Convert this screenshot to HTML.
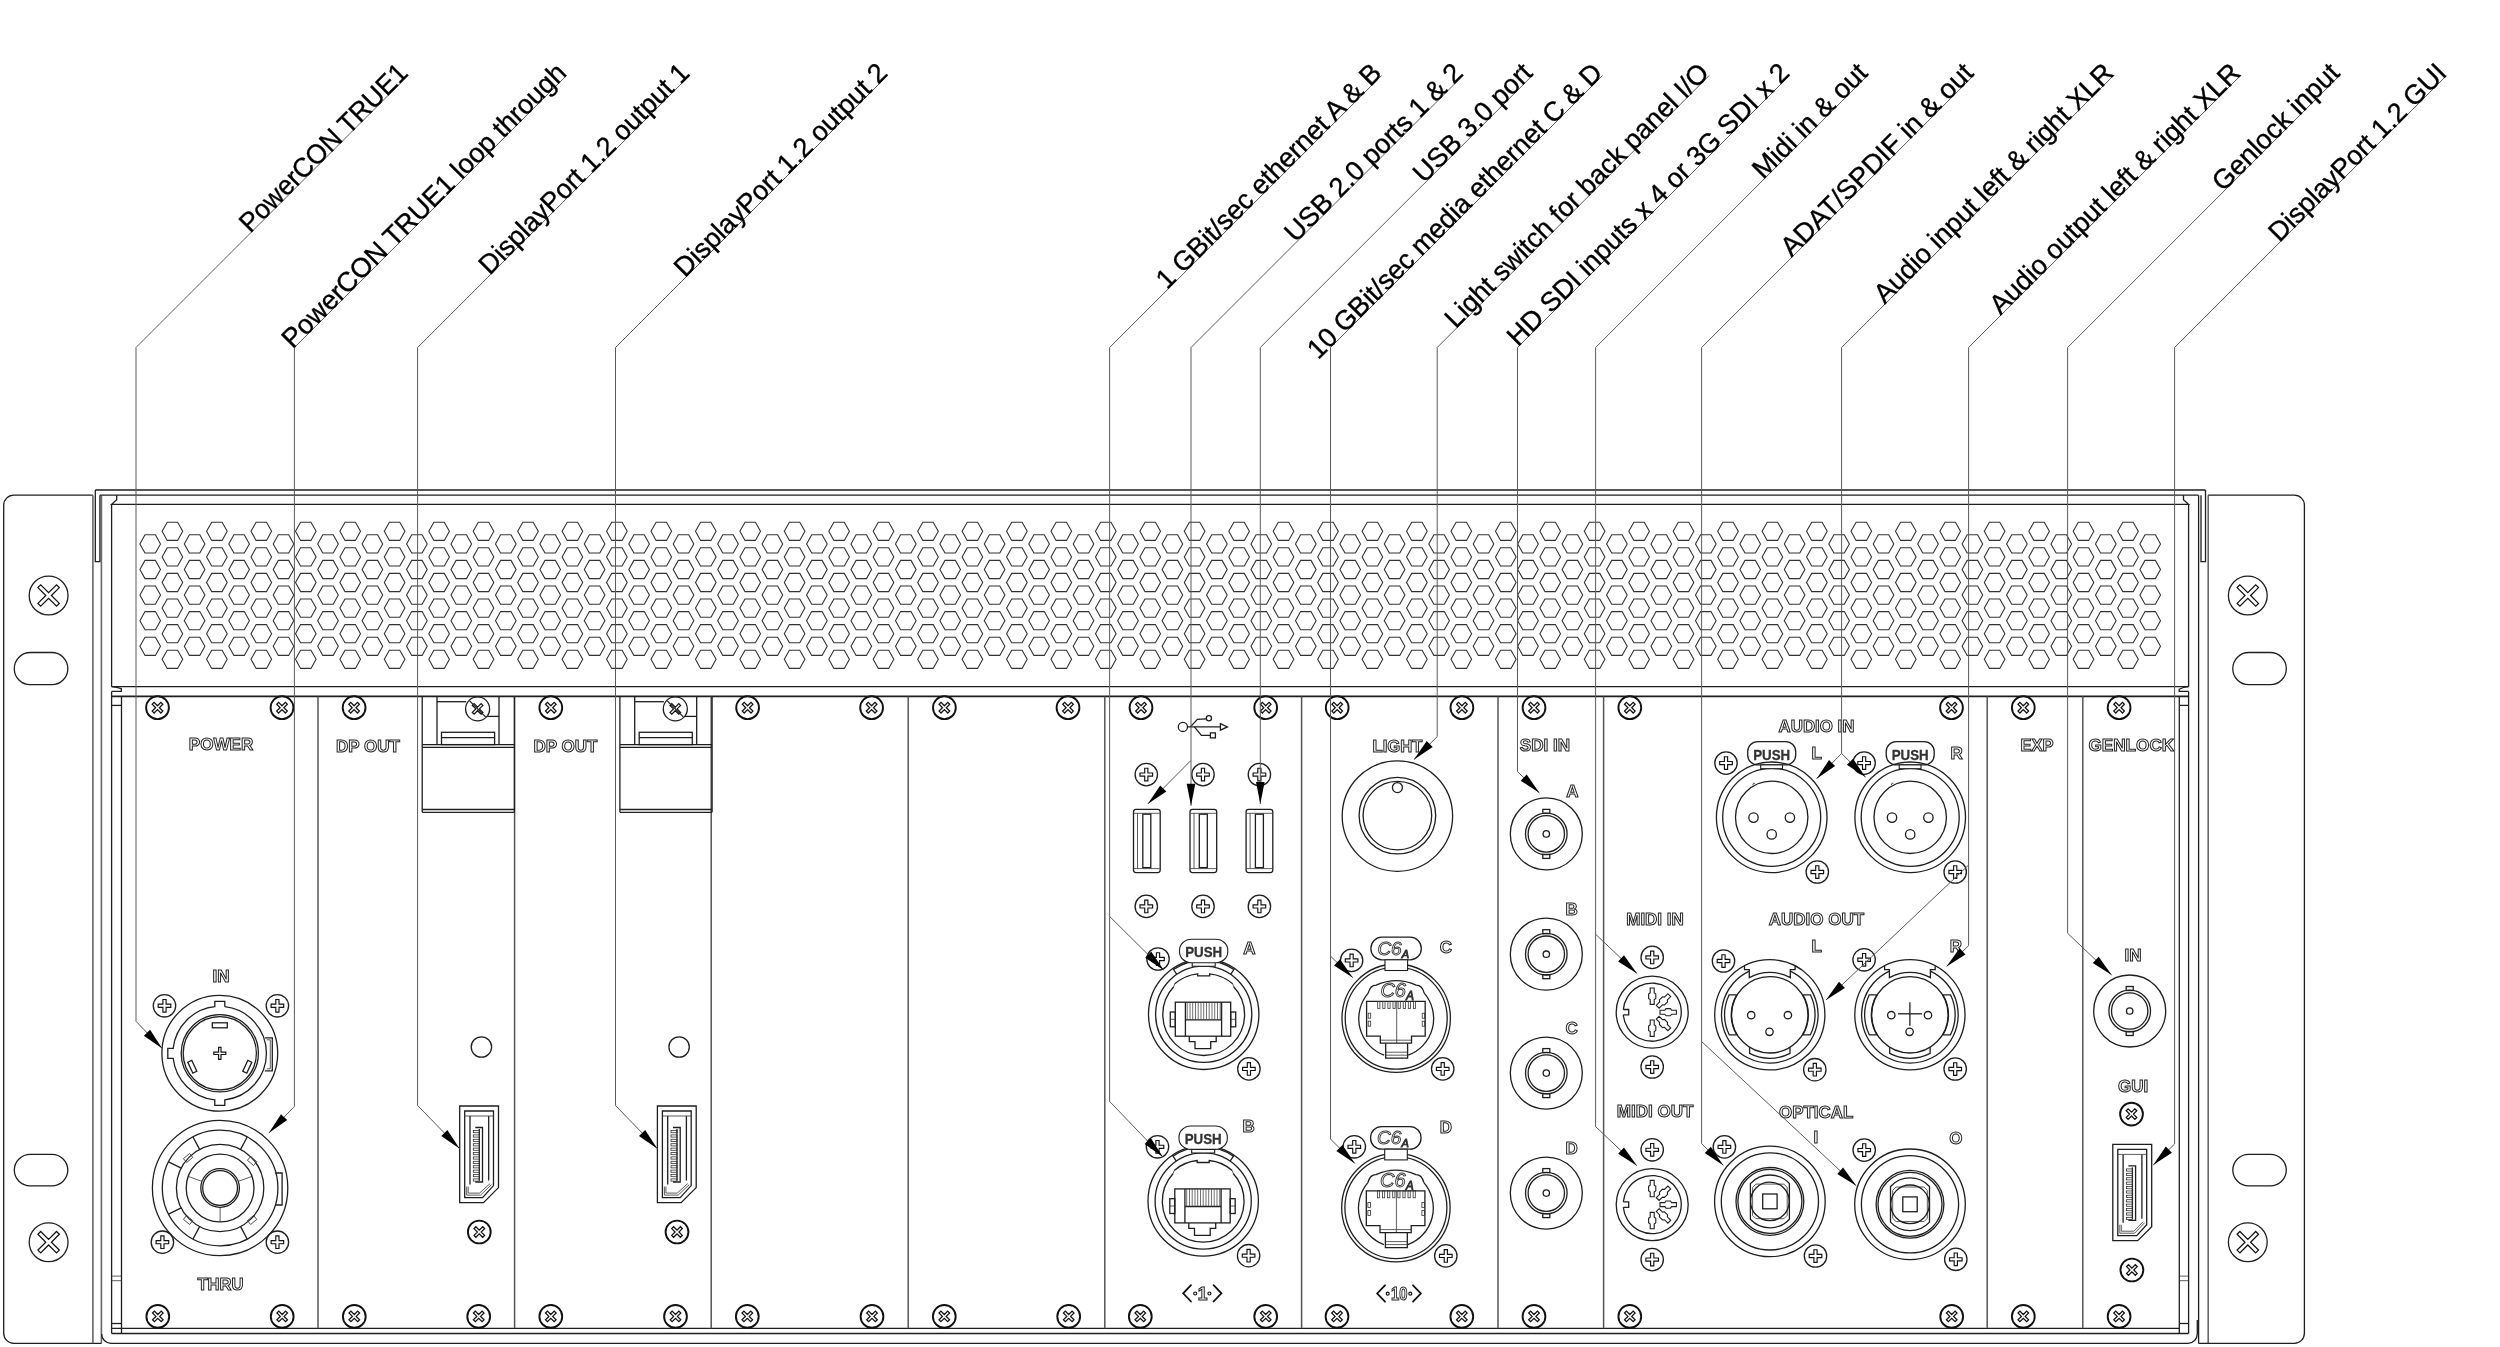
<!DOCTYPE html>
<html><head><meta charset="utf-8"><title>Rear panel</title><style>
html,body{margin:0;padding:0;background:#fff;}
body{width:2500px;height:1347px;overflow:hidden;}
svg{display:block;filter:grayscale(1);}
.m{fill:none;stroke:#1e1e1e;stroke-width:1.3;}
.m2{fill:none;stroke:#1e1e1e;stroke-width:1.7;}
.mw{fill:#fff;stroke:#1e1e1e;stroke-width:1.1;}
.g2{fill:none;stroke:#666;stroke-width:1.6;}
.dv{fill:none;stroke:#505050;stroke-width:1.45;}
.t{fill:none;stroke:#333;stroke-width:0.8;}
.hatch{fill:none;stroke:#333;stroke-width:0.7;}
.hx{fill:none;stroke:#333;stroke-width:1.1;}
.sc{fill:#fff;stroke:#111;stroke-width:1.9;}
.xs{fill:#fff;stroke:#111;stroke-width:1.25;}
.ps{fill:#fff;stroke:#111;stroke-width:1.15;}
.ld{fill:none;stroke:#5a5a5a;stroke-width:1;}
.ar{fill:#000;stroke:none;}
.chev{fill:none;stroke:#111;stroke-width:1.8;stroke-linecap:round;stroke-linejoin:miter;}
.dot{fill:#fff;stroke:#111;stroke-width:1.2;}
.lab{font-family:"Liberation Sans",sans-serif;font-size:27.3px;fill:#000;stroke:#000;stroke-width:0.35px;}
.ol{font-family:"Liberation Sans",sans-serif;font-weight:bold;fill:#fff;stroke:#222;stroke-width:1;}
.pu{font-family:"Liberation Sans",sans-serif;font-weight:bold;font-size:15px;fill:#333;stroke:#333;stroke-width:0.3;}
.c6{font-family:"Liberation Sans",sans-serif;font-style:italic;font-size:19px;fill:#fff;stroke:#333;stroke-width:0.9;}
.c6i{font-family:"Liberation Sans",sans-serif;font-style:italic;font-size:20px;fill:#fff;stroke:#333;stroke-width:0.9;}
</style></head><body>
<svg width="2500" height="1347" viewBox="0 0 2500 1347">
<defs><polygon id="hx" class="hx" points="-10.3,0 -5.2,-9.1 5.2,-9.1 10.3,0 5.2,9.1 -5.2,9.1"/><g id="sx"><circle class="sc" r="11.4"/><polygon class="xs" points="5.3,-3.4 1.9,-0 5.3,3.4 3.4,5.3 0,1.9 -3.4,5.3 -5.3,3.4 -1.9,0 -5.3,-3.4 -3.4,-5.3 -0,-1.9 3.4,-5.3"/></g><g id="sxt"><circle class="m" r="12"/><polygon class="xs" points="5.3,-3.5 1.8,-0 5.3,3.5 3.5,5.3 0,1.8 -3.5,5.3 -5.3,3.5 -1.8,0 -5.3,-3.5 -3.5,-5.3 -0,-1.8 3.5,-5.3"/><line class="m" x1="-8" y1="-8" x2="8" y2="8"/></g><g id="se"><circle class="m" r="19.4"/><polygon class="xs" points="10.7,-7.9 2.8,-0 10.7,7.9 7.9,10.7 0,2.8 -7.9,10.7 -10.7,7.9 -2.8,0 -10.7,-7.9 -7.9,-10.7 -0,-2.8 7.9,-10.7"/></g><g id="sp"><circle class="m" r="11.2"/><polygon class="ps" points="1.6,-6.3 1.6,-1.6 6.3,-1.6 6.3,1.6 1.6,1.6 1.6,6.3 -1.6,6.3 -1.6,1.6 -6.3,1.6 -6.3,-1.6 -1.6,-1.6 -1.6,-6.3"/></g><g id="bnc"><circle class="m" r="36"/><circle class="m" r="20.8"/><circle class="m" r="18.2"/><circle class="m" r="3.2"/><rect class="m" x="-3.5" y="-24.5" width="7" height="4"/><rect class="m" x="-3.5" y="20.5" width="7" height="4"/></g></defs>
<rect x="0" y="0" width="2500" height="1347" fill="#fff"/>
<path class="m" d="M92.9,495.2 H13.7 A10,10 0 0 0 3.7,505.2 V1333.3 A10,10 0 0 0 13.7,1343.3 H101.6"/>
<line class="g2" x1="92.9" y1="495.2" x2="92.9" y2="1343.3"/>
<line class="g2" x1="101.4" y1="495.2" x2="101.4" y2="1343.3"/>
<path class="m" d="M101.6,1334 A9.3,9.3 0 0 0 110.9,1343.3 H2188"/>
<line class="m" x1="95.3" y1="490" x2="2205.5" y2="490"/>
<path class="m" d="M95.3,490 V561.7 H99.9 V495.2"/>
<line class="m" x1="99.9" y1="495.2" x2="2198.4" y2="495.2"/>
<path class="m" d="M2205.5,490 V561.7 H2201 V495.2"/>
<line class="m" x1="2198.6" y1="495.2" x2="2198.6" y2="1343.3"/>
<line class="g2" x1="2208.2" y1="495.2" x2="2208.2" y2="1343.3"/>
<path class="m" d="M2208.2,495.2 H2294.4 A10,10 0 0 1 2304.4,505.2 V1333.3 A10,10 0 0 1 2294.4,1343.3 H2198.5"/>
<path class="m" d="M2188,1343.3 A9.3,9.3 0 0 0 2197.3,1334 V1320"/>
<path class="m" d="M116.7,495.2 V499.7 L111.6,504.3 H2188.6 L2183.5,499.7 V495.2"/>
<line class="m" x1="111.6" y1="504.3" x2="111.6" y2="686.7"/>
<line class="m" x1="2188.6" y1="504.3" x2="2188.6" y2="686.7"/>
<line class="m" x1="111.6" y1="686.7" x2="2188.6" y2="686.7"/>
<path class="m" d="M111.6,686.6 Q117,687 121.3,688.7 V691.4 H111.6"/>
<path class="m" d="M2188.6,686.6 Q2183,687 2179.2,689.2 V691.4 H2188.6"/>
<line class="m2" x1="111.6" y1="696.4" x2="2188.6" y2="696.4"/>
<line class="m" x1="111.6" y1="691.4" x2="111.6" y2="1333.5"/>
<line class="m" x1="121.5" y1="696.4" x2="121.5" y2="1333.5"/>
<line class="m" x1="2179.3" y1="696.4" x2="2179.3" y2="1333.5"/>
<line class="m" x1="2188.6" y1="691.4" x2="2188.6" y2="1333.5"/>
<line class="m2" x1="111.6" y1="1333.5" x2="2188.6" y2="1333.5"/>
<line class="m" x1="111.6" y1="1328.3" x2="2179.3" y2="1328.3"/>
<line class="m" x1="111.6" y1="705.4" x2="121.5" y2="705.4"/>
<line class="m" x1="2179.3" y1="705.4" x2="2188.6" y2="705.4"/>
<line class="m" x1="111.6" y1="1323.5" x2="121.5" y2="1323.5"/>
<line class="m" x1="2179.3" y1="1323.5" x2="2188.6" y2="1323.5"/>
<line class="t" x1="111.6" y1="1276.1" x2="121.5" y2="1276.1"/>
<line class="t" x1="2179.3" y1="1276.1" x2="2188.6" y2="1276.1"/>
<line class="t" x1="111.6" y1="1280.7" x2="121.5" y2="1280.7"/>
<line class="t" x1="2179.3" y1="1280.7" x2="2188.6" y2="1280.7"/>
<line class="dv" x1="318" y1="696.4" x2="318" y2="1328.3"/>
<line class="dv" x1="514.6" y1="696.4" x2="514.6" y2="1328.3"/>
<line class="dv" x1="711.2" y1="696.4" x2="711.2" y2="1328.3"/>
<line class="dv" x1="908.2" y1="696.4" x2="908.2" y2="1328.3"/>
<line class="dv" x1="1104.8" y1="696.4" x2="1104.8" y2="1328.3"/>
<line class="dv" x1="1301.6" y1="696.4" x2="1301.6" y2="1328.3"/>
<line class="dv" x1="1498" y1="696.4" x2="1498" y2="1328.3"/>
<line class="dv" x1="1603.6" y1="696.4" x2="1603.6" y2="1328.3"/>
<line class="dv" x1="1987.2" y1="696.4" x2="1987.2" y2="1328.3"/>
<line class="dv" x1="2082.8" y1="696.4" x2="2082.8" y2="1328.3"/>
<use href="#se" x="48.6" y="595.5"/>
<use href="#se" x="48.6" y="1242.2"/>
<use href="#se" x="2247.8" y="595.5"/>
<use href="#se" x="2247.8" y="1242.2"/>
<rect class="m" x="14.3" y="652.5" width="53.5" height="32.2" rx="16"/>
<rect class="m" x="14.3" y="1154.3" width="53.5" height="31.6" rx="16"/>
<rect class="m" x="2232.8" y="652.5" width="53.5" height="32.2" rx="16"/>
<rect class="m" x="2232.8" y="1154.3" width="53.5" height="31.6" rx="16"/>
<use href="#hx" x="150.2" y="543.9"/>
<use href="#hx" x="150.2" y="569.5"/>
<use href="#hx" x="150.2" y="595.1"/>
<use href="#hx" x="150.2" y="620.7"/>
<use href="#hx" x="150.2" y="646.3"/>
<use href="#hx" x="172.4" y="531.3"/>
<use href="#hx" x="172.4" y="556.9"/>
<use href="#hx" x="172.4" y="582.5"/>
<use href="#hx" x="172.4" y="608.1"/>
<use href="#hx" x="172.4" y="633.7"/>
<use href="#hx" x="172.4" y="659.3"/>
<use href="#hx" x="194.6" y="543.9"/>
<use href="#hx" x="194.6" y="569.5"/>
<use href="#hx" x="194.6" y="595.1"/>
<use href="#hx" x="194.6" y="620.7"/>
<use href="#hx" x="194.6" y="646.3"/>
<use href="#hx" x="216.9" y="531.3"/>
<use href="#hx" x="216.9" y="556.9"/>
<use href="#hx" x="216.9" y="582.5"/>
<use href="#hx" x="216.9" y="608.1"/>
<use href="#hx" x="216.9" y="633.7"/>
<use href="#hx" x="216.9" y="659.3"/>
<use href="#hx" x="239.1" y="543.9"/>
<use href="#hx" x="239.1" y="569.5"/>
<use href="#hx" x="239.1" y="595.1"/>
<use href="#hx" x="239.1" y="620.7"/>
<use href="#hx" x="239.1" y="646.3"/>
<use href="#hx" x="261.3" y="531.3"/>
<use href="#hx" x="261.3" y="556.9"/>
<use href="#hx" x="261.3" y="582.5"/>
<use href="#hx" x="261.3" y="608.1"/>
<use href="#hx" x="261.3" y="633.7"/>
<use href="#hx" x="261.3" y="659.3"/>
<use href="#hx" x="283.5" y="543.9"/>
<use href="#hx" x="283.5" y="569.5"/>
<use href="#hx" x="283.5" y="595.1"/>
<use href="#hx" x="283.5" y="620.7"/>
<use href="#hx" x="283.5" y="646.3"/>
<use href="#hx" x="305.8" y="531.3"/>
<use href="#hx" x="305.8" y="556.9"/>
<use href="#hx" x="305.8" y="582.5"/>
<use href="#hx" x="305.8" y="608.1"/>
<use href="#hx" x="305.8" y="633.7"/>
<use href="#hx" x="305.8" y="659.3"/>
<use href="#hx" x="328" y="543.9"/>
<use href="#hx" x="328" y="569.5"/>
<use href="#hx" x="328" y="595.1"/>
<use href="#hx" x="328" y="620.7"/>
<use href="#hx" x="328" y="646.3"/>
<use href="#hx" x="350.2" y="531.3"/>
<use href="#hx" x="350.2" y="556.9"/>
<use href="#hx" x="350.2" y="582.5"/>
<use href="#hx" x="350.2" y="608.1"/>
<use href="#hx" x="350.2" y="633.7"/>
<use href="#hx" x="350.2" y="659.3"/>
<use href="#hx" x="372.4" y="543.9"/>
<use href="#hx" x="372.4" y="569.5"/>
<use href="#hx" x="372.4" y="595.1"/>
<use href="#hx" x="372.4" y="620.7"/>
<use href="#hx" x="372.4" y="646.3"/>
<use href="#hx" x="394.6" y="531.3"/>
<use href="#hx" x="394.6" y="556.9"/>
<use href="#hx" x="394.6" y="582.5"/>
<use href="#hx" x="394.6" y="608.1"/>
<use href="#hx" x="394.6" y="633.7"/>
<use href="#hx" x="394.6" y="659.3"/>
<use href="#hx" x="416.9" y="543.9"/>
<use href="#hx" x="416.9" y="569.5"/>
<use href="#hx" x="416.9" y="595.1"/>
<use href="#hx" x="416.9" y="620.7"/>
<use href="#hx" x="416.9" y="646.3"/>
<use href="#hx" x="439.1" y="531.3"/>
<use href="#hx" x="439.1" y="556.9"/>
<use href="#hx" x="439.1" y="582.5"/>
<use href="#hx" x="439.1" y="608.1"/>
<use href="#hx" x="439.1" y="633.7"/>
<use href="#hx" x="439.1" y="659.3"/>
<use href="#hx" x="461.3" y="543.9"/>
<use href="#hx" x="461.3" y="569.5"/>
<use href="#hx" x="461.3" y="595.1"/>
<use href="#hx" x="461.3" y="620.7"/>
<use href="#hx" x="461.3" y="646.3"/>
<use href="#hx" x="483.5" y="531.3"/>
<use href="#hx" x="483.5" y="556.9"/>
<use href="#hx" x="483.5" y="582.5"/>
<use href="#hx" x="483.5" y="608.1"/>
<use href="#hx" x="483.5" y="633.7"/>
<use href="#hx" x="483.5" y="659.3"/>
<use href="#hx" x="505.8" y="543.9"/>
<use href="#hx" x="505.8" y="569.5"/>
<use href="#hx" x="505.8" y="595.1"/>
<use href="#hx" x="505.8" y="620.7"/>
<use href="#hx" x="505.8" y="646.3"/>
<use href="#hx" x="528" y="531.3"/>
<use href="#hx" x="528" y="556.9"/>
<use href="#hx" x="528" y="582.5"/>
<use href="#hx" x="528" y="608.1"/>
<use href="#hx" x="528" y="633.7"/>
<use href="#hx" x="528" y="659.3"/>
<use href="#hx" x="550.2" y="543.9"/>
<use href="#hx" x="550.2" y="569.5"/>
<use href="#hx" x="550.2" y="595.1"/>
<use href="#hx" x="550.2" y="620.7"/>
<use href="#hx" x="550.2" y="646.3"/>
<use href="#hx" x="572.4" y="531.3"/>
<use href="#hx" x="572.4" y="556.9"/>
<use href="#hx" x="572.4" y="582.5"/>
<use href="#hx" x="572.4" y="608.1"/>
<use href="#hx" x="572.4" y="633.7"/>
<use href="#hx" x="572.4" y="659.3"/>
<use href="#hx" x="594.6" y="543.9"/>
<use href="#hx" x="594.6" y="569.5"/>
<use href="#hx" x="594.6" y="595.1"/>
<use href="#hx" x="594.6" y="620.7"/>
<use href="#hx" x="594.6" y="646.3"/>
<use href="#hx" x="616.9" y="531.3"/>
<use href="#hx" x="616.9" y="556.9"/>
<use href="#hx" x="616.9" y="582.5"/>
<use href="#hx" x="616.9" y="608.1"/>
<use href="#hx" x="616.9" y="633.7"/>
<use href="#hx" x="616.9" y="659.3"/>
<use href="#hx" x="639.1" y="543.9"/>
<use href="#hx" x="639.1" y="569.5"/>
<use href="#hx" x="639.1" y="595.1"/>
<use href="#hx" x="639.1" y="620.7"/>
<use href="#hx" x="639.1" y="646.3"/>
<use href="#hx" x="661.3" y="531.3"/>
<use href="#hx" x="661.3" y="556.9"/>
<use href="#hx" x="661.3" y="582.5"/>
<use href="#hx" x="661.3" y="608.1"/>
<use href="#hx" x="661.3" y="633.7"/>
<use href="#hx" x="661.3" y="659.3"/>
<use href="#hx" x="683.5" y="543.9"/>
<use href="#hx" x="683.5" y="569.5"/>
<use href="#hx" x="683.5" y="595.1"/>
<use href="#hx" x="683.5" y="620.7"/>
<use href="#hx" x="683.5" y="646.3"/>
<use href="#hx" x="705.8" y="531.3"/>
<use href="#hx" x="705.8" y="556.9"/>
<use href="#hx" x="705.8" y="582.5"/>
<use href="#hx" x="705.8" y="608.1"/>
<use href="#hx" x="705.8" y="633.7"/>
<use href="#hx" x="705.8" y="659.3"/>
<use href="#hx" x="728" y="543.9"/>
<use href="#hx" x="728" y="569.5"/>
<use href="#hx" x="728" y="595.1"/>
<use href="#hx" x="728" y="620.7"/>
<use href="#hx" x="728" y="646.3"/>
<use href="#hx" x="750.2" y="531.3"/>
<use href="#hx" x="750.2" y="556.9"/>
<use href="#hx" x="750.2" y="582.5"/>
<use href="#hx" x="750.2" y="608.1"/>
<use href="#hx" x="750.2" y="633.7"/>
<use href="#hx" x="750.2" y="659.3"/>
<use href="#hx" x="772.4" y="543.9"/>
<use href="#hx" x="772.4" y="569.5"/>
<use href="#hx" x="772.4" y="595.1"/>
<use href="#hx" x="772.4" y="620.7"/>
<use href="#hx" x="772.4" y="646.3"/>
<use href="#hx" x="794.6" y="531.3"/>
<use href="#hx" x="794.6" y="556.9"/>
<use href="#hx" x="794.6" y="582.5"/>
<use href="#hx" x="794.6" y="608.1"/>
<use href="#hx" x="794.6" y="633.7"/>
<use href="#hx" x="794.6" y="659.3"/>
<use href="#hx" x="816.9" y="543.9"/>
<use href="#hx" x="816.9" y="569.5"/>
<use href="#hx" x="816.9" y="595.1"/>
<use href="#hx" x="816.9" y="620.7"/>
<use href="#hx" x="816.9" y="646.3"/>
<use href="#hx" x="839.1" y="531.3"/>
<use href="#hx" x="839.1" y="556.9"/>
<use href="#hx" x="839.1" y="582.5"/>
<use href="#hx" x="839.1" y="608.1"/>
<use href="#hx" x="839.1" y="633.7"/>
<use href="#hx" x="839.1" y="659.3"/>
<use href="#hx" x="861.3" y="543.9"/>
<use href="#hx" x="861.3" y="569.5"/>
<use href="#hx" x="861.3" y="595.1"/>
<use href="#hx" x="861.3" y="620.7"/>
<use href="#hx" x="861.3" y="646.3"/>
<use href="#hx" x="883.5" y="531.3"/>
<use href="#hx" x="883.5" y="556.9"/>
<use href="#hx" x="883.5" y="582.5"/>
<use href="#hx" x="883.5" y="608.1"/>
<use href="#hx" x="883.5" y="633.7"/>
<use href="#hx" x="883.5" y="659.3"/>
<use href="#hx" x="905.8" y="543.9"/>
<use href="#hx" x="905.8" y="569.5"/>
<use href="#hx" x="905.8" y="595.1"/>
<use href="#hx" x="905.8" y="620.7"/>
<use href="#hx" x="905.8" y="646.3"/>
<use href="#hx" x="928" y="531.3"/>
<use href="#hx" x="928" y="556.9"/>
<use href="#hx" x="928" y="582.5"/>
<use href="#hx" x="928" y="608.1"/>
<use href="#hx" x="928" y="633.7"/>
<use href="#hx" x="928" y="659.3"/>
<use href="#hx" x="950.2" y="543.9"/>
<use href="#hx" x="950.2" y="569.5"/>
<use href="#hx" x="950.2" y="595.1"/>
<use href="#hx" x="950.2" y="620.7"/>
<use href="#hx" x="950.2" y="646.3"/>
<use href="#hx" x="972.4" y="531.3"/>
<use href="#hx" x="972.4" y="556.9"/>
<use href="#hx" x="972.4" y="582.5"/>
<use href="#hx" x="972.4" y="608.1"/>
<use href="#hx" x="972.4" y="633.7"/>
<use href="#hx" x="972.4" y="659.3"/>
<use href="#hx" x="994.6" y="543.9"/>
<use href="#hx" x="994.6" y="569.5"/>
<use href="#hx" x="994.6" y="595.1"/>
<use href="#hx" x="994.6" y="620.7"/>
<use href="#hx" x="994.6" y="646.3"/>
<use href="#hx" x="1016.9" y="531.3"/>
<use href="#hx" x="1016.9" y="556.9"/>
<use href="#hx" x="1016.9" y="582.5"/>
<use href="#hx" x="1016.9" y="608.1"/>
<use href="#hx" x="1016.9" y="633.7"/>
<use href="#hx" x="1016.9" y="659.3"/>
<use href="#hx" x="1039.1" y="543.9"/>
<use href="#hx" x="1039.1" y="569.5"/>
<use href="#hx" x="1039.1" y="595.1"/>
<use href="#hx" x="1039.1" y="620.7"/>
<use href="#hx" x="1039.1" y="646.3"/>
<use href="#hx" x="1061.3" y="531.3"/>
<use href="#hx" x="1061.3" y="556.9"/>
<use href="#hx" x="1061.3" y="582.5"/>
<use href="#hx" x="1061.3" y="608.1"/>
<use href="#hx" x="1061.3" y="633.7"/>
<use href="#hx" x="1061.3" y="659.3"/>
<use href="#hx" x="1083.5" y="543.9"/>
<use href="#hx" x="1083.5" y="569.5"/>
<use href="#hx" x="1083.5" y="595.1"/>
<use href="#hx" x="1083.5" y="620.7"/>
<use href="#hx" x="1083.5" y="646.3"/>
<use href="#hx" x="1105.8" y="531.3"/>
<use href="#hx" x="1105.8" y="556.9"/>
<use href="#hx" x="1105.8" y="582.5"/>
<use href="#hx" x="1105.8" y="608.1"/>
<use href="#hx" x="1105.8" y="633.7"/>
<use href="#hx" x="1105.8" y="659.3"/>
<use href="#hx" x="1128" y="543.9"/>
<use href="#hx" x="1128" y="569.5"/>
<use href="#hx" x="1128" y="595.1"/>
<use href="#hx" x="1128" y="620.7"/>
<use href="#hx" x="1128" y="646.3"/>
<use href="#hx" x="1150.2" y="531.3"/>
<use href="#hx" x="1150.2" y="556.9"/>
<use href="#hx" x="1150.2" y="582.5"/>
<use href="#hx" x="1150.2" y="608.1"/>
<use href="#hx" x="1150.2" y="633.7"/>
<use href="#hx" x="1150.2" y="659.3"/>
<use href="#hx" x="1172.4" y="543.9"/>
<use href="#hx" x="1172.4" y="569.5"/>
<use href="#hx" x="1172.4" y="595.1"/>
<use href="#hx" x="1172.4" y="620.7"/>
<use href="#hx" x="1172.4" y="646.3"/>
<use href="#hx" x="1194.6" y="531.3"/>
<use href="#hx" x="1194.6" y="556.9"/>
<use href="#hx" x="1194.6" y="582.5"/>
<use href="#hx" x="1194.6" y="608.1"/>
<use href="#hx" x="1194.6" y="633.7"/>
<use href="#hx" x="1194.6" y="659.3"/>
<use href="#hx" x="1216.9" y="543.9"/>
<use href="#hx" x="1216.9" y="569.5"/>
<use href="#hx" x="1216.9" y="595.1"/>
<use href="#hx" x="1216.9" y="620.7"/>
<use href="#hx" x="1216.9" y="646.3"/>
<use href="#hx" x="1239.1" y="531.3"/>
<use href="#hx" x="1239.1" y="556.9"/>
<use href="#hx" x="1239.1" y="582.5"/>
<use href="#hx" x="1239.1" y="608.1"/>
<use href="#hx" x="1239.1" y="633.7"/>
<use href="#hx" x="1239.1" y="659.3"/>
<use href="#hx" x="1261.3" y="543.9"/>
<use href="#hx" x="1261.3" y="569.5"/>
<use href="#hx" x="1261.3" y="595.1"/>
<use href="#hx" x="1261.3" y="620.7"/>
<use href="#hx" x="1261.3" y="646.3"/>
<use href="#hx" x="1283.5" y="531.3"/>
<use href="#hx" x="1283.5" y="556.9"/>
<use href="#hx" x="1283.5" y="582.5"/>
<use href="#hx" x="1283.5" y="608.1"/>
<use href="#hx" x="1283.5" y="633.7"/>
<use href="#hx" x="1283.5" y="659.3"/>
<use href="#hx" x="1305.8" y="543.9"/>
<use href="#hx" x="1305.8" y="569.5"/>
<use href="#hx" x="1305.8" y="595.1"/>
<use href="#hx" x="1305.8" y="620.7"/>
<use href="#hx" x="1305.8" y="646.3"/>
<use href="#hx" x="1328" y="531.3"/>
<use href="#hx" x="1328" y="556.9"/>
<use href="#hx" x="1328" y="582.5"/>
<use href="#hx" x="1328" y="608.1"/>
<use href="#hx" x="1328" y="633.7"/>
<use href="#hx" x="1328" y="659.3"/>
<use href="#hx" x="1350.2" y="543.9"/>
<use href="#hx" x="1350.2" y="569.5"/>
<use href="#hx" x="1350.2" y="595.1"/>
<use href="#hx" x="1350.2" y="620.7"/>
<use href="#hx" x="1350.2" y="646.3"/>
<use href="#hx" x="1372.4" y="531.3"/>
<use href="#hx" x="1372.4" y="556.9"/>
<use href="#hx" x="1372.4" y="582.5"/>
<use href="#hx" x="1372.4" y="608.1"/>
<use href="#hx" x="1372.4" y="633.7"/>
<use href="#hx" x="1372.4" y="659.3"/>
<use href="#hx" x="1394.6" y="543.9"/>
<use href="#hx" x="1394.6" y="569.5"/>
<use href="#hx" x="1394.6" y="595.1"/>
<use href="#hx" x="1394.6" y="620.7"/>
<use href="#hx" x="1394.6" y="646.3"/>
<use href="#hx" x="1416.9" y="531.3"/>
<use href="#hx" x="1416.9" y="556.9"/>
<use href="#hx" x="1416.9" y="582.5"/>
<use href="#hx" x="1416.9" y="608.1"/>
<use href="#hx" x="1416.9" y="633.7"/>
<use href="#hx" x="1416.9" y="659.3"/>
<use href="#hx" x="1439.1" y="543.9"/>
<use href="#hx" x="1439.1" y="569.5"/>
<use href="#hx" x="1439.1" y="595.1"/>
<use href="#hx" x="1439.1" y="620.7"/>
<use href="#hx" x="1439.1" y="646.3"/>
<use href="#hx" x="1461.3" y="531.3"/>
<use href="#hx" x="1461.3" y="556.9"/>
<use href="#hx" x="1461.3" y="582.5"/>
<use href="#hx" x="1461.3" y="608.1"/>
<use href="#hx" x="1461.3" y="633.7"/>
<use href="#hx" x="1461.3" y="659.3"/>
<use href="#hx" x="1483.5" y="543.9"/>
<use href="#hx" x="1483.5" y="569.5"/>
<use href="#hx" x="1483.5" y="595.1"/>
<use href="#hx" x="1483.5" y="620.7"/>
<use href="#hx" x="1483.5" y="646.3"/>
<use href="#hx" x="1505.8" y="531.3"/>
<use href="#hx" x="1505.8" y="556.9"/>
<use href="#hx" x="1505.8" y="582.5"/>
<use href="#hx" x="1505.8" y="608.1"/>
<use href="#hx" x="1505.8" y="633.7"/>
<use href="#hx" x="1505.8" y="659.3"/>
<use href="#hx" x="1528" y="543.9"/>
<use href="#hx" x="1528" y="569.5"/>
<use href="#hx" x="1528" y="595.1"/>
<use href="#hx" x="1528" y="620.7"/>
<use href="#hx" x="1528" y="646.3"/>
<use href="#hx" x="1550.2" y="531.3"/>
<use href="#hx" x="1550.2" y="556.9"/>
<use href="#hx" x="1550.2" y="582.5"/>
<use href="#hx" x="1550.2" y="608.1"/>
<use href="#hx" x="1550.2" y="633.7"/>
<use href="#hx" x="1550.2" y="659.3"/>
<use href="#hx" x="1572.4" y="543.9"/>
<use href="#hx" x="1572.4" y="569.5"/>
<use href="#hx" x="1572.4" y="595.1"/>
<use href="#hx" x="1572.4" y="620.7"/>
<use href="#hx" x="1572.4" y="646.3"/>
<use href="#hx" x="1594.6" y="531.3"/>
<use href="#hx" x="1594.6" y="556.9"/>
<use href="#hx" x="1594.6" y="582.5"/>
<use href="#hx" x="1594.6" y="608.1"/>
<use href="#hx" x="1594.6" y="633.7"/>
<use href="#hx" x="1594.6" y="659.3"/>
<use href="#hx" x="1616.9" y="543.9"/>
<use href="#hx" x="1616.9" y="569.5"/>
<use href="#hx" x="1616.9" y="595.1"/>
<use href="#hx" x="1616.9" y="620.7"/>
<use href="#hx" x="1616.9" y="646.3"/>
<use href="#hx" x="1639.1" y="531.3"/>
<use href="#hx" x="1639.1" y="556.9"/>
<use href="#hx" x="1639.1" y="582.5"/>
<use href="#hx" x="1639.1" y="608.1"/>
<use href="#hx" x="1639.1" y="633.7"/>
<use href="#hx" x="1639.1" y="659.3"/>
<use href="#hx" x="1661.3" y="543.9"/>
<use href="#hx" x="1661.3" y="569.5"/>
<use href="#hx" x="1661.3" y="595.1"/>
<use href="#hx" x="1661.3" y="620.7"/>
<use href="#hx" x="1661.3" y="646.3"/>
<use href="#hx" x="1683.5" y="531.3"/>
<use href="#hx" x="1683.5" y="556.9"/>
<use href="#hx" x="1683.5" y="582.5"/>
<use href="#hx" x="1683.5" y="608.1"/>
<use href="#hx" x="1683.5" y="633.7"/>
<use href="#hx" x="1683.5" y="659.3"/>
<use href="#hx" x="1705.8" y="543.9"/>
<use href="#hx" x="1705.8" y="569.5"/>
<use href="#hx" x="1705.8" y="595.1"/>
<use href="#hx" x="1705.8" y="620.7"/>
<use href="#hx" x="1705.8" y="646.3"/>
<use href="#hx" x="1728" y="531.3"/>
<use href="#hx" x="1728" y="556.9"/>
<use href="#hx" x="1728" y="582.5"/>
<use href="#hx" x="1728" y="608.1"/>
<use href="#hx" x="1728" y="633.7"/>
<use href="#hx" x="1728" y="659.3"/>
<use href="#hx" x="1750.2" y="543.9"/>
<use href="#hx" x="1750.2" y="569.5"/>
<use href="#hx" x="1750.2" y="595.1"/>
<use href="#hx" x="1750.2" y="620.7"/>
<use href="#hx" x="1750.2" y="646.3"/>
<use href="#hx" x="1772.4" y="531.3"/>
<use href="#hx" x="1772.4" y="556.9"/>
<use href="#hx" x="1772.4" y="582.5"/>
<use href="#hx" x="1772.4" y="608.1"/>
<use href="#hx" x="1772.4" y="633.7"/>
<use href="#hx" x="1772.4" y="659.3"/>
<use href="#hx" x="1794.6" y="543.9"/>
<use href="#hx" x="1794.6" y="569.5"/>
<use href="#hx" x="1794.6" y="595.1"/>
<use href="#hx" x="1794.6" y="620.7"/>
<use href="#hx" x="1794.6" y="646.3"/>
<use href="#hx" x="1816.9" y="531.3"/>
<use href="#hx" x="1816.9" y="556.9"/>
<use href="#hx" x="1816.9" y="582.5"/>
<use href="#hx" x="1816.9" y="608.1"/>
<use href="#hx" x="1816.9" y="633.7"/>
<use href="#hx" x="1816.9" y="659.3"/>
<use href="#hx" x="1839.1" y="543.9"/>
<use href="#hx" x="1839.1" y="569.5"/>
<use href="#hx" x="1839.1" y="595.1"/>
<use href="#hx" x="1839.1" y="620.7"/>
<use href="#hx" x="1839.1" y="646.3"/>
<use href="#hx" x="1861.3" y="531.3"/>
<use href="#hx" x="1861.3" y="556.9"/>
<use href="#hx" x="1861.3" y="582.5"/>
<use href="#hx" x="1861.3" y="608.1"/>
<use href="#hx" x="1861.3" y="633.7"/>
<use href="#hx" x="1861.3" y="659.3"/>
<use href="#hx" x="1883.5" y="543.9"/>
<use href="#hx" x="1883.5" y="569.5"/>
<use href="#hx" x="1883.5" y="595.1"/>
<use href="#hx" x="1883.5" y="620.7"/>
<use href="#hx" x="1883.5" y="646.3"/>
<use href="#hx" x="1905.8" y="531.3"/>
<use href="#hx" x="1905.8" y="556.9"/>
<use href="#hx" x="1905.8" y="582.5"/>
<use href="#hx" x="1905.8" y="608.1"/>
<use href="#hx" x="1905.8" y="633.7"/>
<use href="#hx" x="1905.8" y="659.3"/>
<use href="#hx" x="1928" y="543.9"/>
<use href="#hx" x="1928" y="569.5"/>
<use href="#hx" x="1928" y="595.1"/>
<use href="#hx" x="1928" y="620.7"/>
<use href="#hx" x="1928" y="646.3"/>
<use href="#hx" x="1950.2" y="531.3"/>
<use href="#hx" x="1950.2" y="556.9"/>
<use href="#hx" x="1950.2" y="582.5"/>
<use href="#hx" x="1950.2" y="608.1"/>
<use href="#hx" x="1950.2" y="633.7"/>
<use href="#hx" x="1950.2" y="659.3"/>
<use href="#hx" x="1972.4" y="543.9"/>
<use href="#hx" x="1972.4" y="569.5"/>
<use href="#hx" x="1972.4" y="595.1"/>
<use href="#hx" x="1972.4" y="620.7"/>
<use href="#hx" x="1972.4" y="646.3"/>
<use href="#hx" x="1994.6" y="531.3"/>
<use href="#hx" x="1994.6" y="556.9"/>
<use href="#hx" x="1994.6" y="582.5"/>
<use href="#hx" x="1994.6" y="608.1"/>
<use href="#hx" x="1994.6" y="633.7"/>
<use href="#hx" x="1994.6" y="659.3"/>
<use href="#hx" x="2016.9" y="543.9"/>
<use href="#hx" x="2016.9" y="569.5"/>
<use href="#hx" x="2016.9" y="595.1"/>
<use href="#hx" x="2016.9" y="620.7"/>
<use href="#hx" x="2016.9" y="646.3"/>
<use href="#hx" x="2039.1" y="531.3"/>
<use href="#hx" x="2039.1" y="556.9"/>
<use href="#hx" x="2039.1" y="582.5"/>
<use href="#hx" x="2039.1" y="608.1"/>
<use href="#hx" x="2039.1" y="633.7"/>
<use href="#hx" x="2039.1" y="659.3"/>
<use href="#hx" x="2061.3" y="543.9"/>
<use href="#hx" x="2061.3" y="569.5"/>
<use href="#hx" x="2061.3" y="595.1"/>
<use href="#hx" x="2061.3" y="620.7"/>
<use href="#hx" x="2061.3" y="646.3"/>
<use href="#hx" x="2083.5" y="531.3"/>
<use href="#hx" x="2083.5" y="556.9"/>
<use href="#hx" x="2083.5" y="582.5"/>
<use href="#hx" x="2083.5" y="608.1"/>
<use href="#hx" x="2083.5" y="633.7"/>
<use href="#hx" x="2083.5" y="659.3"/>
<use href="#hx" x="2105.8" y="543.9"/>
<use href="#hx" x="2105.8" y="569.5"/>
<use href="#hx" x="2105.8" y="595.1"/>
<use href="#hx" x="2105.8" y="620.7"/>
<use href="#hx" x="2105.8" y="646.3"/>
<use href="#hx" x="2128" y="531.3"/>
<use href="#hx" x="2128" y="556.9"/>
<use href="#hx" x="2128" y="582.5"/>
<use href="#hx" x="2128" y="608.1"/>
<use href="#hx" x="2128" y="633.7"/>
<use href="#hx" x="2128" y="659.3"/>
<use href="#hx" x="2150.2" y="543.9"/>
<use href="#hx" x="2150.2" y="569.5"/>
<use href="#hx" x="2150.2" y="595.1"/>
<use href="#hx" x="2150.2" y="620.7"/>
<use href="#hx" x="2150.2" y="646.3"/>
<use href="#sx" x="157.5" y="707.7"/>
<use href="#sx" x="282" y="707.7"/>
<use href="#sx" x="354.1" y="707.7"/>
<use href="#sx" x="550.8" y="707.7"/>
<use href="#sx" x="747.6" y="707.7"/>
<use href="#sx" x="871.6" y="707.7"/>
<use href="#sx" x="944.4" y="707.7"/>
<use href="#sx" x="1068" y="707.7"/>
<use href="#sx" x="1141" y="707.7"/>
<use href="#sx" x="1265.7" y="707.7"/>
<use href="#sx" x="1337.2" y="707.7"/>
<use href="#sx" x="1461.9" y="707.7"/>
<use href="#sx" x="1534" y="707.7"/>
<use href="#sx" x="1629.8" y="707.7"/>
<use href="#sx" x="1951.5" y="707.7"/>
<use href="#sx" x="2023.3" y="707.7"/>
<use href="#sx" x="2119.1" y="707.7"/>
<use href="#sx" x="157.8" y="1316.4"/>
<use href="#sx" x="282.2" y="1316.4"/>
<use href="#sx" x="354.3" y="1316.4"/>
<use href="#sx" x="478.7" y="1316.4"/>
<use href="#sx" x="550.8" y="1316.4"/>
<use href="#sx" x="675.5" y="1316.4"/>
<use href="#sx" x="747.3" y="1316.4"/>
<use href="#sx" x="872" y="1316.4"/>
<use href="#sx" x="944.3" y="1316.4"/>
<use href="#sx" x="1068.7" y="1316.4"/>
<use href="#sx" x="1140.3" y="1316.4"/>
<use href="#sx" x="1265.7" y="1316.4"/>
<use href="#sx" x="1337" y="1316.4"/>
<use href="#sx" x="1461.8" y="1316.4"/>
<use href="#sx" x="1534" y="1316.4"/>
<use href="#sx" x="1629.8" y="1316.4"/>
<use href="#sx" x="1951.7" y="1316.4"/>
<use href="#sx" x="2023.3" y="1316.4"/>
<use href="#sx" x="2119.1" y="1316.4"/>
<text class="ol" x="221" y="749.6" font-size="17" text-anchor="middle" textLength="64.5" lengthAdjust="spacingAndGlyphs">POWER</text>
<text class="ol" x="368" y="751.5" font-size="17" text-anchor="middle" textLength="64" lengthAdjust="spacingAndGlyphs">DP OUT</text>
<text class="ol" x="565.5" y="751.5" font-size="17" text-anchor="middle" textLength="64" lengthAdjust="spacingAndGlyphs">DP OUT</text>
<text class="ol" x="221" y="981.5" font-size="17" text-anchor="middle">IN</text>
<text class="ol" x="220.5" y="1290" font-size="17" text-anchor="middle" textLength="46" lengthAdjust="spacingAndGlyphs">THRU</text>
<text class="ol" x="1397.5" y="752" font-size="17" text-anchor="middle" textLength="50" lengthAdjust="spacingAndGlyphs">LIGHT</text>
<text class="ol" x="1545" y="750.6" font-size="17" text-anchor="middle" textLength="50.3" lengthAdjust="spacingAndGlyphs">SDI IN</text>
<text class="ol" x="1816.5" y="732.4" font-size="17" text-anchor="middle" textLength="76" lengthAdjust="spacingAndGlyphs">AUDIO IN</text>
<text class="ol" x="1816.4" y="925.3" font-size="17" text-anchor="middle" textLength="95.5" lengthAdjust="spacingAndGlyphs">AUDIO OUT</text>
<text class="ol" x="1655" y="925.1" font-size="17" text-anchor="middle" textLength="57.5" lengthAdjust="spacingAndGlyphs">MIDI IN</text>
<text class="ol" x="1655.2" y="1117" font-size="17" text-anchor="middle" textLength="76.7" lengthAdjust="spacingAndGlyphs">MIDI OUT</text>
<text class="ol" x="1816.2" y="1117.5" font-size="17" text-anchor="middle" textLength="74.2" lengthAdjust="spacingAndGlyphs">OPTICAL</text>
<text class="ol" x="2037" y="751.1" font-size="17" text-anchor="middle" textLength="33.1" lengthAdjust="spacingAndGlyphs">EXP</text>
<text class="ol" x="2131.3" y="751.1" font-size="17" text-anchor="middle" textLength="85.7" lengthAdjust="spacingAndGlyphs">GENLOCK</text>
<text class="ol" x="2133.1" y="960.6" font-size="17" text-anchor="middle">IN</text>
<text class="ol" x="2133.1" y="1092.1" font-size="17" text-anchor="middle">GUI</text>
<text class="ol" x="1249.4" y="953.5" font-size="17" text-anchor="middle">A</text>
<text class="ol" x="1248.6" y="1131.6" font-size="17" text-anchor="middle">B</text>
<text class="ol" x="1445.8" y="953" font-size="17" text-anchor="middle">C</text>
<text class="ol" x="1445.8" y="1132.7" font-size="17" text-anchor="middle">D</text>
<text class="ol" x="1572.3" y="796.5" font-size="17" text-anchor="middle">A</text>
<text class="ol" x="1571.6" y="914.8" font-size="17" text-anchor="middle">B</text>
<text class="ol" x="1571.6" y="1033.6" font-size="17" text-anchor="middle">C</text>
<text class="ol" x="1571.6" y="1153.8" font-size="17" text-anchor="middle">D</text>
<text class="ol" x="1816.6" y="759.4" font-size="17" text-anchor="middle">L</text>
<text class="ol" x="1956.6" y="759.4" font-size="17" text-anchor="middle">R</text>
<text class="ol" x="1816.6" y="951.6" font-size="17" text-anchor="middle">L</text>
<text class="ol" x="1955.8" y="951.6" font-size="17" text-anchor="middle">R</text>
<text class="ol" x="1815.9" y="1143.2" font-size="17" text-anchor="middle">I</text>
<text class="ol" x="1955.8" y="1143.5" font-size="17" text-anchor="middle">O</text>
<circle class="m" cx="219.8" cy="1053.3" r="57.9"/>
<path class="m" d="M224.8,1006.7 A46.9,46.9 0 0 1 224.8,1099.9 L224.8,1105.3 L214.8,1105.3 L214.8,1099.9 A46.9,46.9 0 0 1 173.2,1058.3 L167.8,1058.3 L167.8,1048.3 L173.2,1048.3 A46.9,46.9 0 0 1 214.8,1006.7 L214.8,1001.3 L224.8,1001.3 L224.8,1006.7"/>
<circle class="m" cx="219.8" cy="1053.3" r="38.6"/>
<circle class="m" cx="219.8" cy="1053.3" r="36.6"/>
<rect class="m" x="212.3" y="1022.8" width="15" height="5"/>
<polygon class="ps" points="221,1047.3 221,1052.1 225.8,1052.1 225.8,1054.5 221,1054.5 221,1059.3 218.6,1059.3 218.6,1054.5 213.8,1054.5 213.8,1052.1 218.6,1052.1 218.6,1047.3"/>
<path class="m" d="M264.8,1037.8 H272.3 V1070.8 H264.8"/>
<path class="t" d="M266.8,1039.8 H270.3 V1068.8 H266.8"/>
<rect class="m" x="-6" y="-2.2" width="12" height="4.4" transform="translate(192.3,1066.8) rotate(65)"/>
<rect class="m" x="-6" y="-2.2" width="12" height="4.4" transform="translate(247.3,1066.8) rotate(-65)"/>
<use href="#sp" x="164.5" y="1005.8"/>
<use href="#sp" x="277.4" y="1005.8"/>
<circle class="m" cx="220.1" cy="1188" r="67.7"/>
<circle class="m" cx="220.1" cy="1188" r="57.8"/>
<circle class="m" cx="220.1" cy="1188" r="43.7"/>
<circle class="m" cx="220.1" cy="1188" r="33.9"/>
<circle class="m" cx="220.1" cy="1188" r="19.3"/>
<circle class="m" cx="220.1" cy="1188" r="17.4"/>
<line class="m" x1="199.6" y1="1149.4" x2="193" y2="1137"/>
<line class="m" x1="240.6" y1="1149.4" x2="247.2" y2="1137"/>
<line class="m" x1="199.6" y1="1226.6" x2="193" y2="1239"/>
<line class="m" x1="240.6" y1="1226.6" x2="247.2" y2="1239"/>
<line class="m" x1="181.2" y1="1168.2" x2="168.6" y2="1161.8"/>
<line class="m" x1="181.2" y1="1207.8" x2="168.6" y2="1214.2"/>
<line class="t" x1="202" y1="1181.4" x2="188.2" y2="1176.4"/>
<line class="t" x1="238.2" y1="1181.4" x2="252" y2="1176.4"/>
<line class="t" x1="220.1" y1="1207.3" x2="220.1" y2="1221.9"/>
<rect class="t" x="-4" y="-2.5" width="8" height="5" transform="translate(188.1,1158) rotate(-40)"/>
<rect class="t" x="-4" y="-2.5" width="8" height="5" transform="translate(252.1,1161) rotate(40)"/>
<rect class="t" x="-4" y="-2.5" width="8" height="5" transform="translate(188.1,1220) rotate(40)"/>
<rect class="t" x="-4" y="-2.5" width="8" height="5" transform="translate(252.1,1220) rotate(-40)"/>
<path class="m" d="M275.1,1173 H282.1 V1205 H275.1"/>
<use href="#sp" x="162.4" y="1242.2"/>
<use href="#sp" x="277.4" y="1242.2"/>
<line class="m" x1="422.2" y1="696.4" x2="422.2" y2="812.3"/>
<line class="m" x1="437" y1="696.4" x2="437" y2="744.6"/>
<line class="m" x1="499" y1="696.4" x2="499" y2="744.6"/>
<line class="m" x1="437" y1="701.7" x2="466.2" y2="701.7"/>
<line class="m" x1="487.2" y1="716.4" x2="499" y2="716.4"/>
<rect class="m" x="441.5" y="732.3" width="53.1" height="12.3"/>
<line class="m" x1="441.5" y1="737.7" x2="494.6" y2="737.7"/>
<line class="m" x1="422.2" y1="744.6" x2="514.4" y2="744.6"/>
<line class="m" x1="422.2" y1="747.3" x2="514.4" y2="747.3"/>
<line class="m" x1="422.2" y1="809.5" x2="514.4" y2="809.5"/>
<line class="m" x1="422.2" y1="812.3" x2="514.4" y2="812.3"/>
<line class="m" x1="514.4" y1="696.4" x2="514.4" y2="812.3"/>
<use href="#sxt" x="477.6" y="708.9"/>
<polygon class="m" points="459.7,1106 498.5,1106 498.5,1187.6 483.5,1202.6 459.7,1202.6"/>
<polygon class="m" points="464.7,1111 493.5,1111 493.5,1185.6 482.5,1197.6 464.7,1197.6"/>
<line class="m" x1="470" y1="1116" x2="470" y2="1184.6"/>
<line class="m" x1="488.7" y1="1116" x2="488.7" y2="1180.6"/>
<line class="t" x1="464.7" y1="1116" x2="493.5" y2="1116"/>
<polyline class="t" points="466.7,1186.6 466.7,1195.1 480.5,1195.1 491.5,1184.6"/>
<polyline class="t" points="468.2,1186.6 468.2,1193.1 479.5,1193.1 490,1183.6"/>
<path class="m" d="M475.3,1127.5 H482.5 V1182 H475.3"/>
<line class="m" x1="479.3" y1="1129" x2="479.3" y2="1180.5"/>
<rect class="t" x="473.3" y="1130.5" width="6" height="2.2"/>
<rect class="t" x="473.3" y="1134.9" width="6" height="2.2"/>
<rect class="t" x="473.3" y="1139.3" width="6" height="2.2"/>
<rect class="t" x="473.3" y="1143.7" width="6" height="2.2"/>
<rect class="t" x="473.3" y="1148.1" width="6" height="2.2"/>
<rect class="t" x="473.3" y="1152.5" width="6" height="2.2"/>
<rect class="t" x="473.3" y="1156.9" width="6" height="2.2"/>
<rect class="t" x="473.3" y="1161.3" width="6" height="2.2"/>
<rect class="t" x="473.3" y="1165.7" width="6" height="2.2"/>
<rect class="t" x="473.3" y="1170.1" width="6" height="2.2"/>
<rect class="t" x="473.3" y="1174.5" width="6" height="2.2"/>
<rect class="t" x="473.3" y="1178.9" width="6" height="2.2"/>
<circle class="m" cx="481.4" cy="1047" r="10.2"/>
<use href="#sx" x="479.3" y="1232"/>
<line class="m" x1="619.9" y1="696.4" x2="619.9" y2="812.3"/>
<line class="m" x1="634.7" y1="696.4" x2="634.7" y2="744.6"/>
<line class="m" x1="696.7" y1="696.4" x2="696.7" y2="744.6"/>
<line class="m" x1="634.7" y1="701.7" x2="663.9" y2="701.7"/>
<line class="m" x1="684.9" y1="716.4" x2="696.7" y2="716.4"/>
<rect class="m" x="639.2" y="732.3" width="53.1" height="12.3"/>
<line class="m" x1="639.2" y1="737.7" x2="692.3" y2="737.7"/>
<line class="m" x1="619.9" y1="744.6" x2="712.1" y2="744.6"/>
<line class="m" x1="619.9" y1="747.3" x2="712.1" y2="747.3"/>
<line class="m" x1="619.9" y1="809.5" x2="712.1" y2="809.5"/>
<line class="m" x1="619.9" y1="812.3" x2="712.1" y2="812.3"/>
<line class="m" x1="712.1" y1="696.4" x2="712.1" y2="812.3"/>
<use href="#sxt" x="675.3" y="708.9"/>
<polygon class="m" points="657.4,1106 696.2,1106 696.2,1187.6 681.2,1202.6 657.4,1202.6"/>
<polygon class="m" points="662.4,1111 691.2,1111 691.2,1185.6 680.2,1197.6 662.4,1197.6"/>
<line class="m" x1="667.7" y1="1116" x2="667.7" y2="1184.6"/>
<line class="m" x1="686.4" y1="1116" x2="686.4" y2="1180.6"/>
<line class="t" x1="662.4" y1="1116" x2="691.2" y2="1116"/>
<polyline class="t" points="664.4,1186.6 664.4,1195.1 678.2,1195.1 689.2,1184.6"/>
<polyline class="t" points="665.9,1186.6 665.9,1193.1 677.2,1193.1 687.7,1183.6"/>
<path class="m" d="M673,1127.5 H680.2 V1182 H673"/>
<line class="m" x1="677" y1="1129" x2="677" y2="1180.5"/>
<rect class="t" x="671" y="1130.5" width="6" height="2.2"/>
<rect class="t" x="671" y="1134.9" width="6" height="2.2"/>
<rect class="t" x="671" y="1139.3" width="6" height="2.2"/>
<rect class="t" x="671" y="1143.7" width="6" height="2.2"/>
<rect class="t" x="671" y="1148.1" width="6" height="2.2"/>
<rect class="t" x="671" y="1152.5" width="6" height="2.2"/>
<rect class="t" x="671" y="1156.9" width="6" height="2.2"/>
<rect class="t" x="671" y="1161.3" width="6" height="2.2"/>
<rect class="t" x="671" y="1165.7" width="6" height="2.2"/>
<rect class="t" x="671" y="1170.1" width="6" height="2.2"/>
<rect class="t" x="671" y="1174.5" width="6" height="2.2"/>
<rect class="t" x="671" y="1178.9" width="6" height="2.2"/>
<circle class="m" cx="679.1" cy="1047" r="10.2"/>
<use href="#sx" x="677" y="1232"/>
<circle class="m" cx="1182.9" cy="726.9" r="4.6"/>
<line class="m" x1="1187.5" y1="726.9" x2="1220.4" y2="726.9"/>
<polygon class="m" points="1220.4,723.6 1227.4,726.9 1220.4,730.2"/>
<polyline class="m" points="1190.4,726.9 1197.4,719.4 1206.4,718.9"/>
<circle class="m" cx="1208.9" cy="718.2" r="2.6"/>
<polyline class="m" points="1194.4,726.9 1201.4,735.4 1210.4,735.4"/>
<rect class="m" x="1210.4" y="732.9" width="5" height="5"/>
<use href="#sp" x="1146.3" y="774.6"/>
<use href="#sp" x="1146.3" y="906.4"/>
<use href="#sp" x="1203" y="774.6"/>
<use href="#sp" x="1203" y="906.4"/>
<use href="#sp" x="1259.4" y="774.6"/>
<use href="#sp" x="1259.4" y="906.4"/>
<rect class="m" x="1133.5" y="809.3" width="26.7" height="63.3" rx="2.5"/>
<line class="t" x1="1134" y1="813.3" x2="1159.7" y2="813.3"/>
<line class="t" x1="1134" y1="868.6" x2="1159.7" y2="868.6"/>
<line class="t" x1="1137.5" y1="813.3" x2="1137.5" y2="868.6"/>
<rect class="m" x="1142.8" y="814.2" width="8" height="53.4"/>
<rect class="m" x="1190" y="809.3" width="26.7" height="63.3" rx="2.5"/>
<line class="t" x1="1190.5" y1="813.3" x2="1216.2" y2="813.3"/>
<line class="t" x1="1190.5" y1="868.6" x2="1216.2" y2="868.6"/>
<line class="t" x1="1194" y1="813.3" x2="1194" y2="868.6"/>
<rect class="m" x="1199.3" y="814.2" width="8" height="53.4"/>
<rect class="m" x="1246.1" y="809.3" width="26.7" height="63.3" rx="2.5"/>
<line class="t" x1="1246.6" y1="813.3" x2="1272.3" y2="813.3"/>
<line class="t" x1="1246.6" y1="868.6" x2="1272.3" y2="868.6"/>
<line class="t" x1="1250.1" y1="813.3" x2="1250.1" y2="868.6"/>
<rect class="m" x="1255.4" y="814.2" width="8" height="53.4"/>
<circle class="m" cx="1203.7" cy="1014.3" r="55.2"/>
<circle class="m" cx="1203.7" cy="1014.3" r="48.1"/>
<path class="m" d="M1173.7,986.8 A40.9,40.9 0 1 0 1233.7,986.8"/>
<path class="t" d="M1173.7,986.8 L1174.7,983.8 M1233.7,986.8 L1232.7,983.8"/>
<path class="m" d="M1174.7,983.8 A40.9,40.9 0 0 1 1197.7,973.8 V975.8 H1209.7 V973.8 A40.9,40.9 0 0 1 1232.7,983.8"/>
<line class="m" x1="1176.8" y1="974.4" x2="1172.8" y2="968.5"/>
<line class="m" x1="1230.6" y1="974.4" x2="1234.6" y2="968.5"/>
<path class="m" d="M1173.5,969.5 A54,54 0 0 1 1233.9,969.5"/>
<rect class="mw" x="1192.2" y="960.3" width="23" height="6"/>
<rect class="mw" x="1179.5" y="939.3" width="48.3" height="23.4" rx="12" ry="11"/>
<text class="pu" x="1203.7" y="957.3" text-anchor="middle" textLength="37" lengthAdjust="spacingAndGlyphs">PUSH</text>
<rect class="m" x="1175.3" y="1002.2" width="55.4" height="34"/>
<line class="m" x1="1185.4" y1="1002.2" x2="1185.4" y2="1036.2"/>
<line class="m" x1="1221.6" y1="1002.2" x2="1221.6" y2="1036.2"/>
<line class="m" x1="1185.4" y1="1019.8" x2="1221.6" y2="1019.8"/>
<line class="hatch" x1="1187.2" y1="1002.2" x2="1187.2" y2="1019.8"/>
<line class="hatch" x1="1190" y1="1002.2" x2="1190" y2="1019.8"/>
<line class="hatch" x1="1192.7" y1="1002.2" x2="1192.7" y2="1019.8"/>
<line class="hatch" x1="1195.5" y1="1002.2" x2="1195.5" y2="1019.8"/>
<line class="hatch" x1="1198.2" y1="1002.2" x2="1198.2" y2="1019.8"/>
<line class="hatch" x1="1201" y1="1002.2" x2="1201" y2="1019.8"/>
<line class="hatch" x1="1203.7" y1="1002.2" x2="1203.7" y2="1019.8"/>
<line class="hatch" x1="1206.5" y1="1002.2" x2="1206.5" y2="1019.8"/>
<line class="hatch" x1="1209.2" y1="1002.2" x2="1209.2" y2="1019.8"/>
<line class="hatch" x1="1212" y1="1002.2" x2="1212" y2="1019.8"/>
<line class="hatch" x1="1214.7" y1="1002.2" x2="1214.7" y2="1019.8"/>
<line class="hatch" x1="1217.5" y1="1002.2" x2="1217.5" y2="1019.8"/>
<line class="hatch" x1="1220.2" y1="1002.2" x2="1220.2" y2="1019.8"/>
<polyline class="m" points="1189.3,1036.2 1189.3,1041.6 1195,1041.6 1195,1048.6 1210.7,1048.6 1210.7,1041.6 1216.2,1041.6 1216.2,1036.2"/>
<rect class="m" x="1170.3" y="1012" width="5" height="14.8"/>
<line class="t" x1="1170.3" y1="1019.3" x2="1175.3" y2="1019.3"/>
<rect class="m" x="1230.7" y="1012" width="5" height="14.8"/>
<line class="t" x1="1230.7" y1="1019.3" x2="1235.7" y2="1019.3"/>
<circle class="m" cx="1203.2" cy="1201" r="55.2"/>
<circle class="m" cx="1203.2" cy="1201" r="48.1"/>
<path class="m" d="M1173.2,1173.5 A40.9,40.9 0 1 0 1233.2,1173.5"/>
<path class="t" d="M1173.2,1173.5 L1174.2,1170.5 M1233.2,1173.5 L1232.2,1170.5"/>
<path class="m" d="M1174.2,1170.5 A40.9,40.9 0 0 1 1197.2,1160.5 V1162.5 H1209.2 V1160.5 A40.9,40.9 0 0 1 1232.2,1170.5"/>
<line class="m" x1="1176.3" y1="1161.1" x2="1172.3" y2="1155.2"/>
<line class="m" x1="1230.1" y1="1161.1" x2="1234.1" y2="1155.2"/>
<path class="m" d="M1173,1156.2 A54,54 0 0 1 1233.4,1156.2"/>
<rect class="mw" x="1191.7" y="1147" width="23" height="6"/>
<rect class="mw" x="1179" y="1126" width="48.3" height="23.4" rx="12" ry="11"/>
<text class="pu" x="1203.2" y="1144" text-anchor="middle" textLength="37" lengthAdjust="spacingAndGlyphs">PUSH</text>
<rect class="m" x="1174.8" y="1188.9" width="55.4" height="34"/>
<line class="m" x1="1184.9" y1="1188.9" x2="1184.9" y2="1222.9"/>
<line class="m" x1="1221.1" y1="1188.9" x2="1221.1" y2="1222.9"/>
<line class="m" x1="1184.9" y1="1206.5" x2="1221.1" y2="1206.5"/>
<line class="hatch" x1="1186.7" y1="1188.9" x2="1186.7" y2="1206.5"/>
<line class="hatch" x1="1189.5" y1="1188.9" x2="1189.5" y2="1206.5"/>
<line class="hatch" x1="1192.2" y1="1188.9" x2="1192.2" y2="1206.5"/>
<line class="hatch" x1="1195" y1="1188.9" x2="1195" y2="1206.5"/>
<line class="hatch" x1="1197.7" y1="1188.9" x2="1197.7" y2="1206.5"/>
<line class="hatch" x1="1200.5" y1="1188.9" x2="1200.5" y2="1206.5"/>
<line class="hatch" x1="1203.2" y1="1188.9" x2="1203.2" y2="1206.5"/>
<line class="hatch" x1="1206" y1="1188.9" x2="1206" y2="1206.5"/>
<line class="hatch" x1="1208.7" y1="1188.9" x2="1208.7" y2="1206.5"/>
<line class="hatch" x1="1211.5" y1="1188.9" x2="1211.5" y2="1206.5"/>
<line class="hatch" x1="1214.2" y1="1188.9" x2="1214.2" y2="1206.5"/>
<line class="hatch" x1="1217" y1="1188.9" x2="1217" y2="1206.5"/>
<line class="hatch" x1="1219.7" y1="1188.9" x2="1219.7" y2="1206.5"/>
<polyline class="m" points="1188.8,1222.9 1188.8,1228.3 1194.5,1228.3 1194.5,1235.3 1210.2,1235.3 1210.2,1228.3 1215.7,1228.3 1215.7,1222.9"/>
<rect class="m" x="1169.8" y="1198.7" width="5" height="14.8"/>
<line class="t" x1="1169.8" y1="1206" x2="1174.8" y2="1206"/>
<rect class="m" x="1230.2" y="1198.7" width="5" height="14.8"/>
<line class="t" x1="1230.2" y1="1206" x2="1235.2" y2="1206"/>
<use href="#sp" x="1158" y="959"/>
<use href="#sp" x="1248.9" y="1068.9"/>
<use href="#sp" x="1157.5" y="1146.8"/>
<use href="#sp" x="1248.6" y="1255.7"/>
<polyline class="chev" points="1191,1285.1 1183.2,1293.3 1191,1301.5"/>
<polyline class="chev" points="1213.6,1285.1 1221.4,1293.3 1213.6,1301.5"/>
<circle class="dot" cx="1195.2" cy="1293.5" r="1.5"/>
<circle class="dot" cx="1209.4" cy="1293.5" r="1.5"/>
<text class="ol" x="1202.6" y="1299.6" font-size="17.5" text-anchor="middle">1</text>
<circle class="m" cx="1397.4" cy="816.1" r="55.2"/>
<circle class="m" cx="1397.4" cy="815.6" r="38.3"/>
<circle class="m" cx="1397.4" cy="815.6" r="34.3"/>
<circle class="m" cx="1397.4" cy="787.6" r="5"/>
<circle class="m" cx="1396.2" cy="1018.2" r="54.2"/>
<circle class="m" cx="1396.2" cy="1018.2" r="51"/>
<rect class="m" x="1370.9" y="937.2" width="50.4" height="22.6" rx="11"/>
<rect class="mw" x="1385" y="959.8" width="22.6" height="10.7"/>
<text class="c6" x="1393.2" y="954.7" text-anchor="middle">C6<tspan font-size="11" dy="3" style="fill:#333">A</tspan></text>
<path class="m" d="M1368.2,993.2 Q1370.2,985.2 1376.2,985.2 Q1396.2,976.2 1416.2,985.2 Q1422.2,985.2 1424.2,993.2"/>
<path class="m" d="M1368.2,993.2 A39,39 0 0 0 1384.2,1055.2 M1424.2,993.2 A39,39 0 0 1 1408.2,1055.2"/>
<text class="c6i" x="1397.2" y="997.2" text-anchor="middle">C6<tspan font-size="12" dy="3" style="fill:#333">A</tspan></text>
<polygon class="m" points="1366.6,1001.4 1425.2,1001.4 1425.2,1036.2 1411.5,1036.2 1411.5,1043.2 1380.3,1043.2 1380.3,1036.2 1366.6,1036.2"/>
<line class="t" x1="1380.3" y1="1040.2" x2="1411.5" y2="1040.2"/>
<polyline class="m" points="1385.7,1043.2 1385.7,1058.2 1407.6,1058.2 1407.6,1043.2"/>
<line class="t" x1="1385.7" y1="1052.2" x2="1407.6" y2="1052.2"/>
<line class="t" x1="1385.7" y1="1055.2" x2="1407.6" y2="1055.2"/>
<line class="t" x1="1396.7" y1="1001.4" x2="1396.7" y2="1043.2"/>
<rect class="t" x="1377.7" y="1001.4" width="2.2" height="7"/>
<rect class="t" x="1382.8" y="1001.4" width="2.2" height="7"/>
<rect class="t" x="1387.9" y="1001.4" width="2.2" height="7"/>
<rect class="t" x="1393" y="1001.4" width="2.2" height="7"/>
<rect class="t" x="1398.1" y="1001.4" width="2.2" height="7"/>
<rect class="t" x="1403.2" y="1001.4" width="2.2" height="7"/>
<rect class="t" x="1408.3" y="1001.4" width="2.2" height="7"/>
<rect class="t" x="1413.4" y="1001.4" width="2.2" height="7"/>
<rect class="t" x="1368.2" y="1013.2" width="2.5" height="5"/>
<rect class="t" x="1368.2" y="1021.2" width="2.5" height="5"/>
<rect class="t" x="1422.2" y="1013.2" width="2.5" height="5"/>
<rect class="t" x="1422.2" y="1021.2" width="2.5" height="5"/>
<circle class="m" cx="1395.9" cy="1207.6" r="54.2"/>
<circle class="m" cx="1395.9" cy="1207.6" r="51"/>
<rect class="m" x="1370.6" y="1126.6" width="50.4" height="22.6" rx="11"/>
<rect class="mw" x="1384.7" y="1149.2" width="22.6" height="10.7"/>
<text class="c6" x="1392.9" y="1144.1" text-anchor="middle">C6<tspan font-size="11" dy="3" style="fill:#333">A</tspan></text>
<path class="m" d="M1367.9,1182.6 Q1369.9,1174.6 1375.9,1174.6 Q1395.9,1165.6 1415.9,1174.6 Q1421.9,1174.6 1423.9,1182.6"/>
<path class="m" d="M1367.9,1182.6 A39,39 0 0 0 1383.9,1244.6 M1423.9,1182.6 A39,39 0 0 1 1407.9,1244.6"/>
<text class="c6i" x="1396.9" y="1186.6" text-anchor="middle">C6<tspan font-size="12" dy="3" style="fill:#333">A</tspan></text>
<polygon class="m" points="1366.3,1190.8 1424.9,1190.8 1424.9,1225.6 1411.2,1225.6 1411.2,1232.6 1380,1232.6 1380,1225.6 1366.3,1225.6"/>
<line class="t" x1="1380" y1="1229.6" x2="1411.2" y2="1229.6"/>
<polyline class="m" points="1385.4,1232.6 1385.4,1247.6 1407.3,1247.6 1407.3,1232.6"/>
<line class="t" x1="1385.4" y1="1241.6" x2="1407.3" y2="1241.6"/>
<line class="t" x1="1385.4" y1="1244.6" x2="1407.3" y2="1244.6"/>
<line class="t" x1="1396.4" y1="1190.8" x2="1396.4" y2="1232.6"/>
<rect class="t" x="1377.4" y="1190.8" width="2.2" height="7"/>
<rect class="t" x="1382.5" y="1190.8" width="2.2" height="7"/>
<rect class="t" x="1387.6" y="1190.8" width="2.2" height="7"/>
<rect class="t" x="1392.7" y="1190.8" width="2.2" height="7"/>
<rect class="t" x="1397.8" y="1190.8" width="2.2" height="7"/>
<rect class="t" x="1402.9" y="1190.8" width="2.2" height="7"/>
<rect class="t" x="1408" y="1190.8" width="2.2" height="7"/>
<rect class="t" x="1413.1" y="1190.8" width="2.2" height="7"/>
<rect class="t" x="1367.9" y="1202.6" width="2.5" height="5"/>
<rect class="t" x="1367.9" y="1210.6" width="2.5" height="5"/>
<rect class="t" x="1421.9" y="1202.6" width="2.5" height="5"/>
<rect class="t" x="1421.9" y="1210.6" width="2.5" height="5"/>
<use href="#sp" x="1351.6" y="960.4"/>
<use href="#sp" x="1442.7" y="1068.9"/>
<use href="#sp" x="1354.3" y="1146.8"/>
<use href="#sp" x="1445.8" y="1255.9"/>
<polyline class="chev" points="1385,1285.3 1377.2,1293.5 1385,1301.7"/>
<polyline class="chev" points="1413,1285.3 1420.8,1293.5 1413,1301.7"/>
<circle class="dot" cx="1387.7" cy="1293.7" r="1.5"/>
<circle class="dot" cx="1410.3" cy="1293.7" r="1.5"/>
<text class="ol" x="1399.2" y="1299.8" font-size="17.5" text-anchor="middle" textLength="16.5" lengthAdjust="spacingAndGlyphs">10</text>
<use href="#bnc" x="1546.3" y="833.9"/>
<use href="#bnc" x="1546.3" y="954.2"/>
<use href="#bnc" x="1546.3" y="1073.1"/>
<use href="#bnc" x="1546.3" y="1193.1"/>
<circle class="m" cx="1652.2" cy="1012.2" r="36"/>
<path class="m" d="M1623.3,1009.5 A29.05,29.05 0 1 1 1623.3,1014.9"/>
<path class="m" d="M1623.3,1009.5 H1628.7 V1014.9 H1623.3"/>
<polygon class="mw" points="-8.2,-2 -3.4,-2 -2.2,-3.6 2.2,-3.6 3.4,-2 8.2,-2 8.2,2 3.4,2 2.2,3.6 -2.2,3.6 -3.4,2 -8.2,2" transform="translate(1652.2,996.2) rotate(-90)"/>
<polygon class="mw" points="-8.2,-2 -3.4,-2 -2.2,-3.6 2.2,-3.6 3.4,-2 8.2,-2 8.2,2 3.4,2 2.2,3.6 -2.2,3.6 -3.4,2 -8.2,2" transform="translate(1663.5,1000.9) rotate(-45)"/>
<polygon class="mw" points="-8.2,-2 -3.4,-2 -2.2,-3.6 2.2,-3.6 3.4,-2 8.2,-2 8.2,2 3.4,2 2.2,3.6 -2.2,3.6 -3.4,2 -8.2,2" transform="translate(1668.2,1012.2) rotate(0)"/>
<polygon class="mw" points="-8.2,-2 -3.4,-2 -2.2,-3.6 2.2,-3.6 3.4,-2 8.2,-2 8.2,2 3.4,2 2.2,3.6 -2.2,3.6 -3.4,2 -8.2,2" transform="translate(1663.5,1023.5) rotate(45)"/>
<polygon class="mw" points="-8.2,-2 -3.4,-2 -2.2,-3.6 2.2,-3.6 3.4,-2 8.2,-2 8.2,2 3.4,2 2.2,3.6 -2.2,3.6 -3.4,2 -8.2,2" transform="translate(1652.2,1028.2) rotate(90)"/>
<circle class="m" cx="1652.2" cy="1204.6" r="36"/>
<path class="m" d="M1623.3,1201.9 A29.05,29.05 0 1 1 1623.3,1207.3"/>
<path class="m" d="M1623.3,1201.9 H1628.7 V1207.3 H1623.3"/>
<polygon class="mw" points="-8.2,-2 -3.4,-2 -2.2,-3.6 2.2,-3.6 3.4,-2 8.2,-2 8.2,2 3.4,2 2.2,3.6 -2.2,3.6 -3.4,2 -8.2,2" transform="translate(1652.2,1188.6) rotate(-90)"/>
<polygon class="mw" points="-8.2,-2 -3.4,-2 -2.2,-3.6 2.2,-3.6 3.4,-2 8.2,-2 8.2,2 3.4,2 2.2,3.6 -2.2,3.6 -3.4,2 -8.2,2" transform="translate(1663.5,1193.3) rotate(-45)"/>
<polygon class="mw" points="-8.2,-2 -3.4,-2 -2.2,-3.6 2.2,-3.6 3.4,-2 8.2,-2 8.2,2 3.4,2 2.2,3.6 -2.2,3.6 -3.4,2 -8.2,2" transform="translate(1668.2,1204.6) rotate(0)"/>
<polygon class="mw" points="-8.2,-2 -3.4,-2 -2.2,-3.6 2.2,-3.6 3.4,-2 8.2,-2 8.2,2 3.4,2 2.2,3.6 -2.2,3.6 -3.4,2 -8.2,2" transform="translate(1663.5,1215.9) rotate(45)"/>
<polygon class="mw" points="-8.2,-2 -3.4,-2 -2.2,-3.6 2.2,-3.6 3.4,-2 8.2,-2 8.2,2 3.4,2 2.2,3.6 -2.2,3.6 -3.4,2 -8.2,2" transform="translate(1652.2,1220.6) rotate(90)"/>
<use href="#sp" x="1652.2" y="957.4"/>
<use href="#sp" x="1652.2" y="1067"/>
<use href="#sp" x="1652.2" y="1149.8"/>
<use href="#sp" x="1652.2" y="1259.6"/>
<circle class="m" cx="1771.7" cy="817.3" r="55.3"/>
<circle class="m" cx="1771.7" cy="817.3" r="49"/>
<circle class="m" cx="1771.7" cy="817.3" r="36.2"/>
<rect class="m" x="1747.7" y="741.6" width="48" height="23.3" rx="10"/>
<text class="pu" x="1771.7" y="759.8" text-anchor="middle" textLength="37" lengthAdjust="spacingAndGlyphs">PUSH</text>
<rect class="mw" x="1760.7" y="764.9" width="21.8" height="3.8"/>
<circle class="m" cx="1753.5" cy="817.6" r="4.7"/>
<circle class="m" cx="1789.9" cy="817.6" r="4.7"/>
<circle class="m" cx="1771.7" cy="834.4" r="4.7"/>
<path class="t" d="M1752.7,785.3 l1,-2.5 l1.5,1.5"/>
<circle class="m" cx="1910.2" cy="817.3" r="55.3"/>
<circle class="m" cx="1910.2" cy="817.3" r="49"/>
<circle class="m" cx="1910.2" cy="817.3" r="36.2"/>
<rect class="m" x="1886.2" y="741.6" width="48" height="23.3" rx="10"/>
<text class="pu" x="1910.2" y="759.8" text-anchor="middle" textLength="37" lengthAdjust="spacingAndGlyphs">PUSH</text>
<rect class="mw" x="1899.2" y="764.9" width="21.8" height="3.8"/>
<circle class="m" cx="1892" cy="817.6" r="4.7"/>
<circle class="m" cx="1928.4" cy="817.6" r="4.7"/>
<circle class="m" cx="1910.2" cy="834.4" r="4.7"/>
<path class="t" d="M1891.2,785.3 l1,-2.5 l1.5,1.5"/>
<circle class="m" cx="1769.8" cy="1014.8" r="55.1"/>
<path class="m" d="M1790.3,971.1 A48.3,48.3 0 1 1 1749.3,971.1"/>
<circle class="m" cx="1769.8" cy="1014.8" r="38.2"/>
<path class="m" d="M1744.5,965.9 V969.6 H1749.3 V977.6 A42.5,42.5 0 0 1 1790.3,977.6 V969.6 H1795.1 V965.9"/>
<path class="m" d="M1749.6,1047.2 V1053.4 A43.6,43.6 0 0 0 1790,1053.4 V1047.2"/>
<path class="m" d="M1736.8,994.8 H1729.2 A45.3,45.3 0 0 0 1729.2,1034.8 H1736.8 A38.6,38.6 0 0 1 1736.8,994.8"/>
<path class="m" d="M1802.8,994.8 H1810.4 A45.3,45.3 0 0 1 1810.4,1034.8 H1802.8 A38.6,38.6 0 0 0 1802.8,994.8"/>
<circle class="m" cx="1751.2" cy="1015.2" r="3.7"/>
<circle class="m" cx="1787.9" cy="1015.2" r="3.7"/>
<circle class="m" cx="1769.5" cy="1031.8" r="3.7"/>
<circle class="m" cx="1909.9" cy="1014.8" r="55.1"/>
<path class="m" d="M1930.4,971.1 A48.3,48.3 0 1 1 1889.4,971.1"/>
<circle class="m" cx="1909.9" cy="1014.8" r="38.2"/>
<path class="m" d="M1884.6,965.9 V969.6 H1889.4 V977.6 A42.5,42.5 0 0 1 1930.4,977.6 V969.6 H1935.2 V965.9"/>
<path class="m" d="M1889.7,1047.2 V1053.4 A43.6,43.6 0 0 0 1930.1,1053.4 V1047.2"/>
<path class="m" d="M1876.9,994.8 H1869.3 A45.3,45.3 0 0 0 1869.3,1034.8 H1876.9 A38.6,38.6 0 0 1 1876.9,994.8"/>
<path class="m" d="M1942.9,994.8 H1950.5 A45.3,45.3 0 0 1 1950.5,1034.8 H1942.9 A38.6,38.6 0 0 0 1942.9,994.8"/>
<circle class="m" cx="1891.3" cy="1015.2" r="3.7"/>
<circle class="m" cx="1928" cy="1015.2" r="3.7"/>
<circle class="m" cx="1909.6" cy="1031.8" r="3.7"/>
<line class="m" x1="1897.9" y1="1013.8" x2="1921.9" y2="1013.8"/>
<line class="m" x1="1909.9" y1="1002.3" x2="1909.9" y2="1025.8"/>
<use href="#sp" x="1726" y="763.1"/>
<use href="#sp" x="1817.3" y="872"/>
<use href="#sp" x="1864.1" y="763.1"/>
<use href="#sp" x="1955.2" y="872"/>
<use href="#sp" x="1723.5" y="961"/>
<use href="#sp" x="1814.8" y="1069.7"/>
<use href="#sp" x="1864.1" y="959.8"/>
<use href="#sp" x="1955.2" y="1069"/>
<use href="#sp" x="1724.4" y="1146.9"/>
<use href="#sp" x="1815.5" y="1256"/>
<use href="#sp" x="1864.2" y="1150.1"/>
<use href="#sp" x="1955.8" y="1259.3"/>
<circle class="m" cx="1769.9" cy="1201.4" r="55.3"/>
<circle class="m" cx="1769.9" cy="1201.4" r="48.6"/>
<circle class="m" cx="1769.9" cy="1201.4" r="33.9"/>
<circle class="m" cx="1769.9" cy="1201.4" r="32"/>
<path class="m" d="M1750.4,1183.6 A26.4,26.4 0 0 1 1789.4,1183.6 V1219.2 A26.4,26.4 0 0 1 1750.4,1219.2 Z"/>
<polygon class="t" points="1755.9,1184.1 1783.9,1184.1 1787.2,1187.4 1787.2,1215.4 1783.9,1218.7 1755.9,1218.7 1752.6,1215.4 1752.6,1187.4"/>
<circle class="m" cx="1769.9" cy="1201.4" r="19.3"/>
<rect class="m" x="1762.7" y="1194" width="14.4" height="14.8"/>
<circle class="m" cx="1910" cy="1204.3" r="55.3"/>
<circle class="m" cx="1910" cy="1204.3" r="48.6"/>
<circle class="m" cx="1910" cy="1204.3" r="33.9"/>
<circle class="m" cx="1910" cy="1204.3" r="32"/>
<path class="m" d="M1890.5,1186.5 A26.4,26.4 0 0 1 1929.5,1186.5 V1222.1 A26.4,26.4 0 0 1 1890.5,1222.1 Z"/>
<polygon class="t" points="1896,1187 1924,1187 1927.3,1190.3 1927.3,1218.3 1924,1221.6 1896,1221.6 1892.7,1218.3 1892.7,1190.3"/>
<circle class="m" cx="1910" cy="1204.3" r="19.3"/>
<rect class="m" x="1902.8" y="1196.9" width="14.4" height="14.8"/>
<use href="#bnc" x="2129.7" y="1011"/>
<use href="#sx" x="2131.5" y="1114.1"/>
<use href="#sx" x="2131.9" y="1270"/>
<polygon class="m" points="2112.8,1144.4 2151.7,1144.4 2151.7,1226.7 2137.7,1240.7 2112.8,1240.7"/>
<polygon class="m" points="2117.8,1149.4 2146.7,1149.4 2146.7,1224.7 2136.7,1235.7 2117.8,1235.7"/>
<line class="m" x1="2123.1" y1="1154.4" x2="2123.1" y2="1222.7"/>
<line class="m" x1="2141.9" y1="1154.4" x2="2141.9" y2="1218.7"/>
<line class="t" x1="2117.8" y1="1154.4" x2="2146.7" y2="1154.4"/>
<polyline class="t" points="2119.8,1224.7 2119.8,1233.2 2134.7,1233.2 2144.7,1222.7"/>
<polyline class="t" points="2121.3,1224.7 2121.3,1231.2 2133.7,1231.2 2143.2,1221.7"/>
<path class="m" d="M2128.4,1165.9 H2135.6 V1220.4 H2128.4"/>
<line class="m" x1="2132.4" y1="1167.4" x2="2132.4" y2="1218.9"/>
<rect class="t" x="2126.4" y="1168.9" width="6" height="2.2"/>
<rect class="t" x="2126.4" y="1173.3" width="6" height="2.2"/>
<rect class="t" x="2126.4" y="1177.7" width="6" height="2.2"/>
<rect class="t" x="2126.4" y="1182.1" width="6" height="2.2"/>
<rect class="t" x="2126.4" y="1186.5" width="6" height="2.2"/>
<rect class="t" x="2126.4" y="1190.9" width="6" height="2.2"/>
<rect class="t" x="2126.4" y="1195.3" width="6" height="2.2"/>
<rect class="t" x="2126.4" y="1199.7" width="6" height="2.2"/>
<rect class="t" x="2126.4" y="1204.1" width="6" height="2.2"/>
<rect class="t" x="2126.4" y="1208.5" width="6" height="2.2"/>
<rect class="t" x="2126.4" y="1212.9" width="6" height="2.2"/>
<rect class="t" x="2126.4" y="1217.3" width="6" height="2.2"/>
<polyline class="ld" points="136,347.5 408,75.5"/>
<text class="lab" transform="translate(409.4,74.4) rotate(-45)" text-anchor="end" textLength="225.2" lengthAdjust="spacingAndGlyphs">PowerCON TRUE1</text>
<polyline class="ld" points="294.4,347.5 566.4,75.5"/>
<text class="lab" transform="translate(567.8,74.4) rotate(-45)" text-anchor="end" textLength="388.9" lengthAdjust="spacingAndGlyphs">PowerCON TRUE1 loop through</text>
<polyline class="ld" points="417.6,347.5 689.6,75.5"/>
<text class="lab" transform="translate(691,74.4) rotate(-45)" text-anchor="end" textLength="284.6" lengthAdjust="spacingAndGlyphs">DisplayPort 1.2 output 1</text>
<polyline class="ld" points="615.5,347.5 887.5,75.5"/>
<text class="lab" transform="translate(888.9,74.4) rotate(-45)" text-anchor="end" textLength="288.2" lengthAdjust="spacingAndGlyphs">DisplayPort 1.2 output 2</text>
<polyline class="ld" points="1109.6,347.5 1381.6,75.5"/>
<text class="lab" transform="translate(1383,74.4) rotate(-45)" text-anchor="end" textLength="305.3" lengthAdjust="spacingAndGlyphs">1 GBit/sec ethernet A &amp; B</text>
<polyline class="ld" points="1191,347.5 1463,75.5"/>
<text class="lab" transform="translate(1464.4,74.4) rotate(-45)" text-anchor="end" textLength="238.9" lengthAdjust="spacingAndGlyphs">USB 2.0 ports 1 &amp; 2</text>
<polyline class="ld" points="1260.3,347.5 1532.3,75.5"/>
<text class="lab" transform="translate(1533.7,74.4) rotate(-45)" text-anchor="end" textLength="155.1" lengthAdjust="spacingAndGlyphs">USB 3.0 port</text>
<polyline class="ld" points="1330.5,347.5 1602.5,75.5"/>
<text class="lab" transform="translate(1603.9,74.4) rotate(-45)" text-anchor="end" textLength="404.1" lengthAdjust="spacingAndGlyphs">10 GBit/sec media ethernet C &amp; D</text>
<polyline class="ld" points="1437.2,347.5 1709.2,75.5"/>
<text class="lab" transform="translate(1710.6,74.4) rotate(-45)" text-anchor="end" textLength="360.3" lengthAdjust="spacingAndGlyphs">Light switch for back panel I/O</text>
<polyline class="ld" points="1517.5,347.5 1789.5,75.5"/>
<text class="lab" transform="translate(1790.9,74.4) rotate(-45)" text-anchor="end" textLength="385.9" lengthAdjust="spacingAndGlyphs">HD SDI inputs x 4 or 3G SDI x 2</text>
<polyline class="ld" points="1595.6,347.5 1867.6,75.5"/>
<text class="lab" transform="translate(1869,74.4) rotate(-45)" text-anchor="end" textLength="149.4" lengthAdjust="spacingAndGlyphs">Midi in &amp; out</text>
<polyline class="ld" points="1701.6,347.5 1973.6,75.5"/>
<text class="lab" transform="translate(1975,74.4) rotate(-45)" text-anchor="end" textLength="259.4" lengthAdjust="spacingAndGlyphs">ADAT/SPDIF in &amp; out</text>
<polyline class="ld" points="1841.6,347.5 2113.6,75.5"/>
<text class="lab" transform="translate(2115,74.4) rotate(-45)" text-anchor="end" textLength="325.7" lengthAdjust="spacingAndGlyphs">Audio input left &amp; right XLR</text>
<polyline class="ld" points="1968.6,347.5 2240.6,75.5"/>
<text class="lab" transform="translate(2242,74.4) rotate(-45)" text-anchor="end" textLength="341.4" lengthAdjust="spacingAndGlyphs">Audio output left &amp; right XLR</text>
<polyline class="ld" points="2067.6,347.5 2339.6,75.5"/>
<text class="lab" transform="translate(2341,74.4) rotate(-45)" text-anchor="end" textLength="166.9" lengthAdjust="spacingAndGlyphs">Genlock input</text>
<polyline class="ld" points="2174.6,347.5 2446.6,75.5"/>
<text class="lab" transform="translate(2448,74.4) rotate(-45)" text-anchor="end" textLength="238.3" lengthAdjust="spacingAndGlyphs">DisplayPort 1.2 GUI</text>
<polyline class="ld" points="136,347.5 136,1021.3 162.2,1048.6"/>
<polygon class="ar" points="162.2,1048.6 143.9,1035.7 150.1,1029.7"/>
<polyline class="ld" points="294.4,347.5 294.4,1106.4 268.8,1133"/>
<polygon class="ar" points="268.8,1133 281,1114.2 287.2,1120.1"/>
<polyline class="ld" points="417.6,347.5 417.6,1105.5 459.7,1148.7"/>
<polygon class="ar" points="459.7,1148.7 441.3,1135.9 447.4,1129.9"/>
<polyline class="ld" points="615.5,347.5 615.5,1105.5 657.4,1148.7"/>
<polygon class="ar" points="657.4,1148.7 639,1135.9 645.2,1129.9"/>
<polyline class="ld" points="1109.6,347.5 1109.6,1101.4 1162.9,1157"/>
<polygon class="ar" points="1162.9,1157 1144.6,1144.1 1150.8,1138.1"/>
<polyline class="ld" points="1109.6,916.4 1163.8,970.2"/>
<polygon class="ar" points="1163.8,970.2 1145.2,957.8 1151.2,951.6"/>
<polyline class="ld" points="1191,347.5 1191,760.4 1147.7,804"/>
<polygon class="ar" points="1147.7,804 1160.2,785.4 1166.3,791.4"/>
<polyline class="ld" points="1191,760.4 1191,805.8"/>
<polygon class="ar" points="1191,805.8 1186.7,783.8 1195.3,783.8"/>
<polyline class="ld" points="1260.3,347.5 1260.3,804"/>
<polygon class="ar" points="1260.3,804 1256,782 1264.6,782"/>
<polyline class="ld" points="1330.5,347.5 1330.5,1139 1354.9,1163.6"/>
<polygon class="ar" points="1354.9,1163.6 1336.4,1151 1342.5,1145"/>
<polyline class="ld" points="1330.5,956.1 1352.9,977.7"/>
<polygon class="ar" points="1352.9,977.7 1334.1,965.5 1340,959.3"/>
<polyline class="ld" points="1437.2,347.5 1437.2,736.7 1414,759.5"/>
<polygon class="ar" points="1414,759.5 1426.7,741 1432.7,747.1"/>
<polyline class="ld" points="1517.5,347.5 1517.5,771.6 1539.5,793"/>
<polygon class="ar" points="1539.5,793 1520.7,780.7 1526.7,774.6"/>
<polyline class="ld" points="1595.6,347.5 1595.6,1126.6 1637,1165.8"/>
<polygon class="ar" points="1637,1165.8 1618.1,1153.8 1624,1147.6"/>
<polyline class="ld" points="1595.6,934.2 1637,973.5"/>
<polygon class="ar" points="1637,973.5 1618.1,961.5 1624,955.2"/>
<polyline class="ld" points="1701.6,347.5 1701.6,1143.7 1723.4,1165.4"/>
<polygon class="ar" points="1723.4,1165.4 1704.8,1152.9 1710.8,1146.8"/>
<polyline class="ld" points="1701.6,1041.5 1856.3,1185.8"/>
<polygon class="ar" points="1856.3,1185.8 1837.3,1173.9 1843.1,1167.6"/>
<polyline class="ld" points="1841.6,347.5 1841.6,753.5 1816.6,778.7"/>
<polygon class="ar" points="1816.6,778.7 1829,760.1 1835.1,766.1"/>
<polyline class="ld" points="1841.6,753.5 1865.6,777.2"/>
<polygon class="ar" points="1865.6,777.2 1846.9,764.8 1853,758.7"/>
<polyline class="ld" points="1968.6,347.5 1968.6,945.7 1946.5,966.5"/>
<polygon class="ar" points="1946.5,966.5 1959.6,948.3 1965.5,954.6"/>
<polyline class="ld" points="1968.6,865 1826,1000"/>
<polygon class="ar" points="1826,1000 1839,981.8 1844.9,988"/>
<polyline class="ld" points="2067.6,347.5 2067.6,933.3 2111.7,975.1"/>
<polygon class="ar" points="2111.7,975.1 2092.8,963.1 2098.7,956.8"/>
<polyline class="ld" points="2174.6,347.5 2174.6,1144 2153.2,1165.1"/>
<polygon class="ar" points="2153.2,1165.1 2165.8,1146.6 2171.9,1152.7"/>
</svg>
</body></html>
